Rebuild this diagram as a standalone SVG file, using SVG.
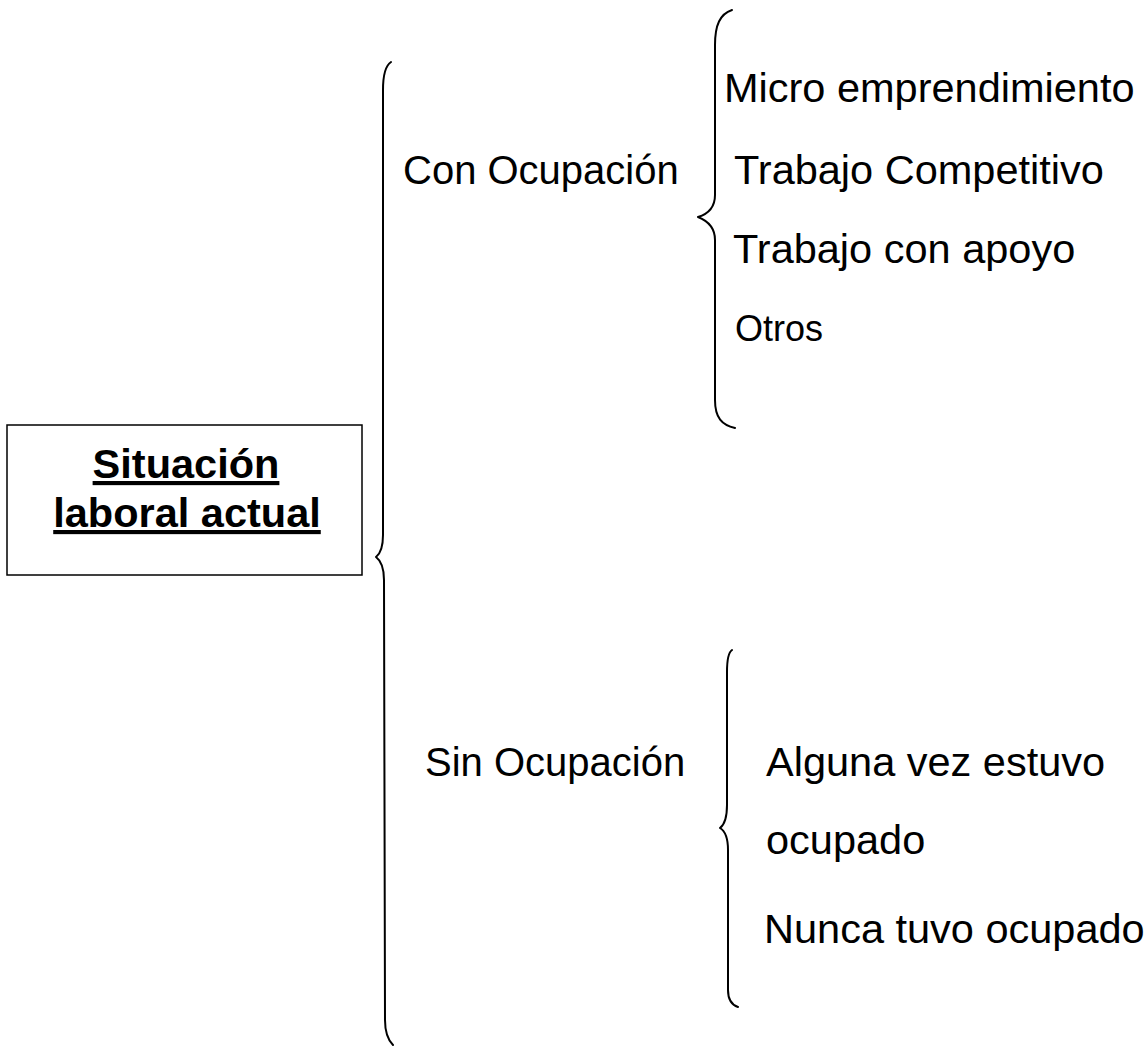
<svg xmlns="http://www.w3.org/2000/svg" width="1148" height="1048" viewBox="0 0 1148 1048">
<style>
  .t { font-family: "Liberation Sans", Arial, sans-serif; font-size: 41.5px; fill: #000; }
  .b { font-weight: bold; text-decoration: underline; }
  .br { fill: none; stroke: #000; stroke-width: 2; stroke-linecap: round; stroke-linejoin: round; }
  .box { fill: #fff; stroke: #000; stroke-width: 1.5; }
</style>
<rect width="1148" height="1048" fill="#fff"/>
<g id="root">
  <rect class="box" x="7" y="425" width="355" height="150"/>
  <text class="t b" x="186" y="478" text-anchor="middle">Situación</text>
  <text class="t b" x="187" y="527" text-anchor="middle">laboral actual</text>
</g>
<g id="connectors">
  <path class="br" d="M391,62 C385,66 383,75 383,90 L383,535 C383,548 380,554 376,557 C380,560 384,566 384,580 L385,1020 C385,1032 388,1040 393,1045"/>
  <path class="br" d="M732,10 C720,14 715,25 715,45 L715,195 C715,208 708,214 698,217 C708,221 715,228 715,240 L715,400 C715,418 722,425 735,428"/>
  <path class="br" d="M732,650 C729,652 727,660 727,672 L727,805 C727,818 724,825 720,828 C725,831 728,838 728,850 L728,990 C728,1000 732,1005 738,1007"/>
</g>
<g id="con-ocupacion">
  <text class="t" x="403" y="184" style="font-size:40px">Con Ocupación</text>
</g>
<g id="micro">
  <text class="t" x="724" y="102">Micro emprendimiento</text>
</g>
<g id="competitivo">
  <text class="t" x="734" y="184">Trabajo Competitivo</text>
</g>
<g id="apoyo">
  <text class="t" x="733" y="263">Trabajo con apoyo</text>
</g>
<g id="otros">
  <text class="t" x="735" y="341" style="font-size:36px">Otros</text>
</g>
<g id="sin-ocupacion">
  <text class="t" x="425" y="776" style="font-size:40px">Sin Ocupación</text>
</g>
<g id="alguna">
  <text class="t" x="766" y="776">Alguna vez estuvo</text>
  <text class="t" x="766" y="854">ocupado</text>
</g>
<g id="nunca">
  <text class="t" x="764" y="943">Nunca tuvo ocupado</text>
</g>
</svg>
